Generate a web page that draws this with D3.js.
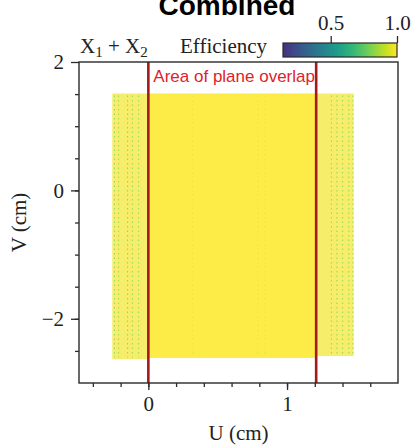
<!DOCTYPE html>
<html><head><meta charset="utf-8">
<script src="https://cdn.jsdelivr.net/npm/d3@7"></script>
<style>
body{margin:0;background:#fff}
svg{display:block}
</style></head><body>
<svg width="413" height="447"></svg>
<script>
// efficiency regions of the combined X1 + X2 map
const regionNames = ["X1 edge", "plane overlap", "X2 edge"];
const regionU0 = [-0.26, 0.0, 1.21];
const regionU1 = [0.0, 1.21, 1.48];
const regionVLow = [-2.63, -2.61, -2.58];
const regionVHigh = [1.51, 1.51, 1.51];
const regionEff = [0.98, 1.0, 0.98];
const regionDensity = [0.66, 0.84, 0.66];

// columns with a few missed hits (dotted lines)
const weakStripU = [-0.245, -0.215, -0.15, -0.115, -0.07, 0.32, 0.79, 0.84, 1.32, 1.36, 1.40, 1.445, 1.475];
const weakStripEff = [0.78, 0.8, 0.76, 0.78, 0.8, 0.92, 0.9, 0.92, 0.78, 0.76, 0.78, 0.78, 0.8];

const overlapEdgesU = [0, 1.21];
const xTicks = [0, 1];
const yTicks = [-2, 0, 2];
const cbTicks = [0.5, 1.0];
const cbDomain = [0.14, 1.0];

const svg = d3.select("svg");
const serif = "'Liberation Serif', 'DejaVu Serif', serif";
const sans = "'Liberation Sans', Arial, sans-serif";

const x = d3.scaleLinear().domain([-0.5, 1.8]).range([79, 398]);
const y = d3.scaleLinear().domain([-3, 2]).range([383, 62]);
const color = d3.scaleSequential(d3.interpolateViridis).domain([0, 1]);

// title (cut at the top edge, as in the source)
svg.append("text")
    .attr("x", 227).attr("y", 15)
    .attr("text-anchor", "middle")
    .style("font-family", sans).style("font-weight", "bold").style("font-size", "28px")
    .text("Combined");

// regions
const regions = regionNames.map((n, i) => ({
    name: n, u0: regionU0[i], u1: regionU1[i], v0: regionVLow[i], v1: regionVHigh[i],
    eff: regionEff[i], dens: regionDensity[i]
}));
svg.append("g").selectAll("rect")
    .data(regions)
    .enter().append("rect")
    .attr("x", d => x(d.u0))
    .attr("width", d => x(d.u1) - x(d.u0))
    .attr("y", d => y(d.v1))
    .attr("height", d => y(d.v0) - y(d.v1))
    .attr("fill", d => color(d.eff))
    .attr("fill-opacity", d => d.dens);

// dotted weak columns
svg.append("g").selectAll("line")
    .data(weakStripU.map((u, i) => ({u: u, eff: weakStripEff[i]})))
    .enter().append("line")
    .attr("x1", d => x(d.u)).attr("x2", d => x(d.u))
    .attr("y1", d => y(1.48))
    .attr("y2", d => y(d.u < 0 ? -2.6 : d.u > 1.21 ? -2.55 : -2.58))
    .attr("stroke", d => color(d.eff))
    .attr("stroke-width", 1.1)
    .attr("stroke-opacity", d => d.u > 0 && d.u < 1.21 ? 0.35 : 0.65)
    .attr("stroke-dasharray", "1.5 3");

// overlap lines
svg.append("g").selectAll("line")
    .data(overlapEdgesU)
    .enter().append("line")
    .attr("x1", d => x(d)).attr("x2", d => x(d))
    .attr("y1", y(2)).attr("y2", y(-3))
    .attr("stroke", "#a3191c").attr("stroke-width", 2.6);

svg.append("text")
    .attr("x", x(0) + 5).attr("y", 82)
    .attr("fill", "#e0222a")
    .style("font-family", sans).style("font-size", "17px")
    .text("Area of plane overlap");

// frame
svg.append("rect")
    .attr("x", x(-0.5)).attr("y", y(2))
    .attr("width", x(1.8) - x(-0.5)).attr("height", y(-3) - y(2))
    .attr("fill", "none").attr("stroke", "#2a2a2a").attr("stroke-width", 1.4);

// axes
function styleAxis(g) {
    g.select(".domain").remove();
    g.selectAll(".tick line").attr("stroke", "#2a2a2a").attr("stroke-width", 1.3);
    g.selectAll(".tick text").attr("fill", "#222")
        .style("font-family", serif).style("font-size", "21px");
}
svg.append("g").attr("transform", `translate(0,${y(-3)})`)
    .call(d3.axisBottom(x).tickValues(d3.range(-0.4, 1.79, 0.2)).tickSize(4).tickFormat(""))
    .call(styleAxis);
svg.append("g").attr("transform", `translate(0,${y(-3)})`)
    .call(d3.axisBottom(x).tickValues(xTicks).tickSize(7).tickPadding(6).tickFormat(d3.format("d")))
    .call(styleAxis);
svg.append("g").attr("transform", `translate(${x(-0.5)},0)`)
    .call(d3.axisLeft(y).tickValues(d3.range(-2.5, 2, 0.5)).tickSize(4).tickFormat(""))
    .call(styleAxis);
svg.append("g").attr("transform", `translate(${x(-0.5)},0)`)
    .call(d3.axisLeft(y).tickValues(yTicks).tickSize(8).tickPadding(7).tickFormat(d3.format("d")))
    .call(styleAxis);

svg.append("text")
    .attr("x", (x(-0.5) + x(1.8)) / 2).attr("y", 440)
    .attr("text-anchor", "middle")
    .style("font-family", serif).style("font-size", "21px").attr("fill", "#222")
    .text("U (cm)");
svg.append("text")
    .attr("transform", `translate(26,${(y(2) + y(-3)) / 2}) rotate(-90)`)
    .attr("text-anchor", "middle")
    .style("font-family", serif).style("font-size", "21px").attr("fill", "#222")
    .text("V (cm)");

// legend labels
const lab = svg.append("text")
    .attr("x", 80).attr("y", 53)
    .style("font-family", serif).style("font-size", "21px").attr("fill", "#222")
    .attr("xml:space", "preserve");
lab.append("tspan").text("X");
lab.append("tspan").attr("font-size", "15px").attr("dy", 4).text("1");
lab.append("tspan").attr("dy", -4).text("\u00a0+\u00a0X");
lab.append("tspan").attr("font-size", "15px").attr("dy", 4).text("2");

svg.append("text")
    .attr("x", 180).attr("y", 53)
    .style("font-family", serif).style("font-size", "21px").attr("fill", "#222")
    .text("Efficiency");

// colorbar
const cb = d3.scaleLinear().domain(cbDomain).range([283, 397]);
const grad = svg.append("defs").append("linearGradient")
    .attr("id", "viridis").attr("x1", "0%").attr("x2", "100%");
d3.range(0, 1.001, 0.1).forEach(t => {
    const v = cbDomain[0] + t * (cbDomain[1] - cbDomain[0]);
    grad.append("stop").attr("offset", (t * 100) + "%").attr("stop-color", color(v));
});
svg.append("rect")
    .attr("x", cb(cbDomain[0])).attr("y", 43)
    .attr("width", cb(cbDomain[1]) - cb(cbDomain[0])).attr("height", 14)
    .attr("fill", "url(#viridis)")
    .attr("stroke", "#2a2a2a").attr("stroke-width", 1.2);
svg.append("g").attr("transform", "translate(0,43)")
    .call(d3.axisTop(cb).tickValues(cbTicks).tickSize(7).tickPadding(6).tickFormat(d3.format(".1f")))
    .call(styleAxis);
</script>
</body></html>
